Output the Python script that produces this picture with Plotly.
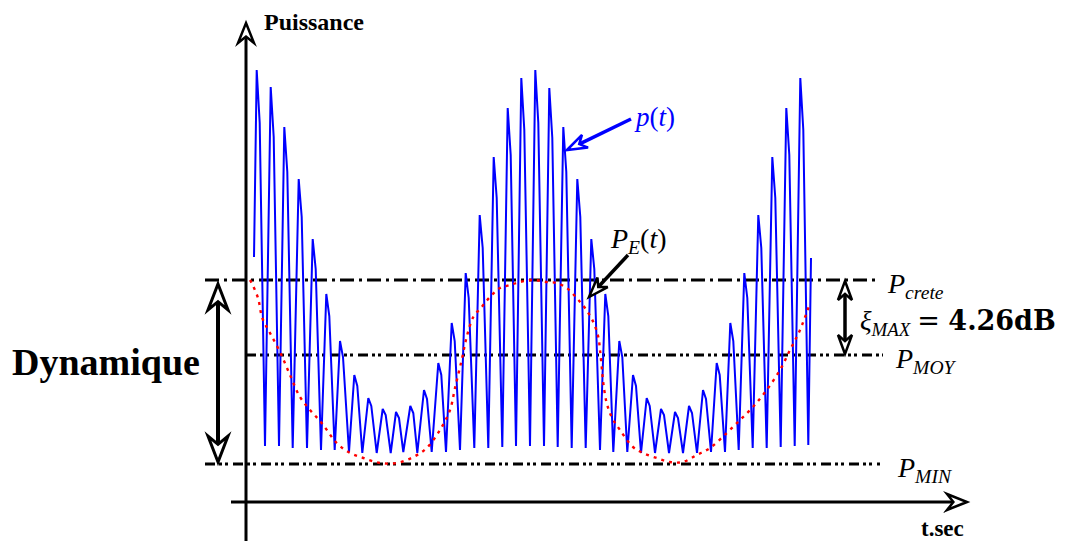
import math
import plotly.graph_objects as go

# ---------------- data (t in ms, power in arbitrary units) ----------------
peak_t = [1.07, 2.47, 3.83, 5.27, 6.67, 8.03, 9.40, 10.83, 12.23, 13.67,
          15.00, 16.43, 17.80, 19.23, 20.57, 21.97, 23.37, 24.77, 26.17, 27.53,
          28.93, 30.33, 31.73, 33.13, 34.53, 35.93, 37.33, 38.70, 40.07, 41.50,
          42.90, 44.30, 45.70, 47.07, 48.43, 49.83, 51.23, 52.63, 54.03, 55.43]
peak_p = [4.32, 4.15, 3.75, 3.23, 2.63, 2.08, 1.61, 1.27, 1.04, 0.93,
          0.90, 0.96, 1.12, 1.39, 1.79, 2.29, 2.87, 3.45, 3.94, 4.24,
          4.32, 4.14, 3.75, 3.23, 2.63, 2.08, 1.61, 1.27, 1.04, 0.93,
          0.90, 0.96, 1.12, 1.39, 1.79, 2.29, 2.87, 3.45, 3.94, 4.24]
shoulder_t = [1.37, 2.77, 4.13, 5.57, 6.97, 8.33, 9.70, 11.13, 12.53, 13.97,
              15.30, 16.73, 18.10, 19.53, 20.87, 22.27, 23.67, 25.07, 26.47, 27.83,
              29.23, 30.63, 32.03, 33.43, 34.83, 36.23, 37.63, 39.00, 40.37, 41.80,
              43.20, 44.60, 46.00, 47.37, 48.73, 50.13, 51.53, 52.93, 54.33, 55.73]
shoulder_p = [3.79, 3.65, 3.30, 2.85, 2.33, 1.86, 1.45, 1.16, 0.96, 0.87,
              0.84, 0.89, 1.03, 1.27, 1.61, 2.04, 2.54, 3.04, 3.47, 3.72,
              3.79, 3.64, 3.30, 2.85, 2.33, 1.86, 1.45, 1.16, 0.96, 0.87,
              0.84, 0.89, 1.03, 1.27, 1.61, 2.04, 2.54, 3.04, 3.47, 3.72]
trough_t = [1.90, 3.30, 4.67, 6.10, 7.50, 8.87, 10.30, 11.63, 13.07, 14.47,
            15.73, 17.13, 18.57, 20.00, 21.40, 22.83, 24.23, 25.63, 27.00, 28.40,
            29.80, 31.17, 32.57, 33.97, 35.40, 36.73, 38.13, 39.50, 40.90, 42.30,
            43.70, 45.10, 46.50, 47.90, 49.27, 50.67, 52.07, 53.47, 54.87, 56.23]
trough_p = [0.56, 0.56, 0.54, 0.54, 0.52, 0.52, 0.50, 0.49, 0.49, 0.49,
            0.50, 0.49, 0.50, 0.50, 0.52, 0.54, 0.54, 0.55, 0.56, 0.56,
            0.56, 0.55, 0.54, 0.54, 0.52, 0.50, 0.50, 0.49, 0.49, 0.49,
            0.49, 0.49, 0.50, 0.50, 0.52, 0.54, 0.54, 0.55, 0.56, 0.57]
start_t, start_p = 0.80, 2.45
end_t, end_p = 56.50, 2.44

env_t = [0.40, 0.57, 1.20, 1.63, 2.40, 3.40, 4.40, 5.40, 6.40, 7.57, 9.07, 10.40,
         11.73, 13.40, 15.07, 16.73, 18.07, 19.40, 20.40, 20.90, 21.57, 22.07,
         22.73, 23.57, 24.40, 25.40, 26.40, 27.40, 28.73, 30.07, 31.07, 32.07,
         33.07, 33.90, 34.73, 35.23, 35.40, 35.57, 35.73, 36.07, 36.57, 37.40,
         38.70, 39.70, 41.07, 42.40, 43.70, 45.07, 46.40, 48.07, 49.40, 50.70,
         52.07, 53.40, 54.40, 55.40, 56.40]
env_p = [2.22, 2.19, 2.04, 1.84, 1.69, 1.50, 1.27, 1.05, 0.92, 0.79, 0.59, 0.49,
         0.44, 0.39, 0.39, 0.45, 0.54, 0.72, 0.92, 1.14, 1.42, 1.65,
         1.85, 1.95, 2.05, 2.14, 2.17, 2.20, 2.22, 2.20, 2.19, 2.14,
         2.04, 1.94, 1.80, 1.65, 1.52, 1.35, 1.19, 0.99, 0.85, 0.72,
         0.55, 0.49, 0.44, 0.40, 0.40, 0.47, 0.54, 0.69, 0.82, 0.95,
         1.12, 1.32, 1.52, 1.72, 1.99]

P_CRETE = 2.22
P_MOY = 1.47
P_MIN = 0.38
level_names = ["crete", "MOY", "MIN"]
xi_max_db = 4.26

# ---------------- build signal polyline ----------------
sig_t = [start_t]
sig_p = [start_p]
for i in range(len(peak_t)):
    sig_t += [peak_t[i], shoulder_t[i], trough_t[i]]
    sig_p += [peak_p[i], shoulder_p[i], trough_p[i]]
sig_t.append(end_t)
sig_p.append(end_p)

# pixel <-> data mapping (plot area = whole canvas)
W, H = 1069, 541
X_ORIG, Y_ORIG = 246.0, 502.0
TX, PY = 10.0, 100.0   # pixels per unit

def to_px(t, p):
    return X_ORIG + t * TX, Y_ORIG - p * PY

def to_data(x, y):
    return (x - X_ORIG) / TX, (Y_ORIG - y) / PY

x_range = [to_data(0, 0)[0], to_data(W, 0)[0]]
y_range = [to_data(0, H)[1], to_data(0, 0)[1]]

fig = go.Figure()

# level lines
dash_crete = "14px,5px,3px,5px"
dash_dd = "10px,4px,3px,3px,3px,5px"
fig.add_trace(go.Scatter(x=[-4.1, 63.4], y=[P_CRETE, P_CRETE], mode="lines",
                         line=dict(color="black", width=3, dash=dash_crete),
                         hoverinfo="skip", showlegend=False))
fig.add_trace(go.Scatter(x=[0.0, 63.7], y=[P_MOY, P_MOY], mode="lines",
                         line=dict(color="black", width=3, dash=dash_dd),
                         hoverinfo="skip", showlegend=False))
fig.add_trace(go.Scatter(x=[-4.1, 63.4], y=[P_MIN, P_MIN], mode="lines",
                         line=dict(color="black", width=3, dash=dash_dd),
                         hoverinfo="skip", showlegend=False))

# signal p(t)
fig.add_trace(go.Scatter(x=sig_t, y=sig_p, mode="lines",
                         line=dict(color="#0000ff", width=2),
                         hoverinfo="skip", showlegend=False))
# envelope P_E(t)
fig.add_trace(go.Scatter(x=env_t, y=env_p, mode="lines",
                         line=dict(color="#ff0000", width=2.4, dash="3px,5px"),
                         line_shape="spline",
                         hoverinfo="skip", showlegend=False))

shapes = []

def head(tip, frm, L, Wd, color="black", lw=3):
    """open notched arrowhead at tip, returns (path shape, notch point in data)"""
    tx, ty = to_px(*tip)
    fx, fy = to_px(*frm)
    d = math.hypot(tx - fx, ty - fy)
    ux, uy = (tx - fx) / d, (ty - fy) / d
    nx, ny = -uy, ux
    bx, by = tx - L * ux, ty - L * uy
    pts = [(tx, ty),
           (bx + Wd / 2 * nx, by + Wd / 2 * ny),
           (tx - 0.68 * L * ux, ty - 0.68 * L * uy),
           (bx - Wd / 2 * nx, by - Wd / 2 * ny)]
    dpts = [to_data(x, y) for x, y in pts]
    path = "M " + " L ".join(f"{a:.4f},{b:.4f}" for a, b in dpts) + " Z"
    shp = dict(type="path", path=path, xref="x", yref="y", layer="above",
               fillcolor="white", line=dict(color=color, width=lw))
    return shp, dpts[2]

def arrow(frm, tip, L, Wd, color="black", lw=3.5, hw=3, double=False):
    h1, n1 = head(tip, frm, L, Wd, color, hw)
    start = frm
    extra = []
    if double:
        h2, n2 = head(frm, tip, L, Wd, color, hw)
        start = n2
        extra.append(h2)
    shapes.append(dict(type="line", xref="x", yref="y", x0=start[0], y0=start[1],
                       x1=n1[0], y1=n1[1], layer="above",
                       line=dict(color=color, width=lw)))
    shapes.append(h1)
    shapes.extend(extra)

# axes
arrow((0.0, y_range[0]), (0.0, 4.79), 20, 16, lw=3, hw=2.5)
arrow((-1.5, 0.0), (72.1, 0.0), 20, 16, lw=3, hw=2.5)
# Dynamique double arrow
arrow((-2.8, P_MIN + 0.02), (-2.8, P_CRETE - 0.04), 26, 20, lw=4, hw=3, double=True)
# xi double arrow
arrow((59.9, P_MOY + 0.01), (59.9, P_CRETE - 0.01), 19, 14, lw=3.5, hw=2.5, double=True)
# p(t) pointer
arrow((38.5, 3.83), (32.1, 3.52), 20, 14, color="#0000ff", lw=3.5, hw=2.5)
# P_E(t) pointer
arrow((38.2, 2.47), (34.3, 2.05), 20, 14, lw=3.5, hw=2.5)

serif = "Liberation Serif"
ann = []
ann.append(dict(x=1.6, y=4.80, text="<b>Puissance</b>", xanchor="left", yanchor="middle",
                font=dict(family=serif, size=24, color="black")))
ann.append(dict(x=69.6, y=-0.26, text="<b>t.sec</b>", xanchor="center", yanchor="middle",
                font=dict(family=serif, size=23, color="black")))
ann.append(dict(x=-14.0, y=1.40, text="<b>Dynamique</b>", xanchor="center", yanchor="middle",
                font=dict(family=serif, size=38, color="black")))
ann.append(dict(x=63.9, y=P_CRETE - 0.05, text="<i>P</i><sub><i>%s</i></sub>" % level_names[0],
                xanchor="left", yanchor="middle", font=dict(family=serif, size=28, color="black")))
ann.append(dict(x=64.7, y=P_MOY - 0.05, text="<i>P</i><sub><i>%s</i></sub>" % level_names[1],
                xanchor="left", yanchor="middle", font=dict(family=serif, size=28, color="black")))
ann.append(dict(x=64.9, y=P_MIN - 0.05, text="<i>P</i><sub><i>%s</i></sub>" % level_names[2],
                xanchor="left", yanchor="middle", font=dict(family=serif, size=28, color="black")))
ann.append(dict(x=61.2, y=1.80,
                text=("<i>ξ</i><sub><i>MAX</i></sub> "
                      "<span style='font-family:DejaVu Serif'>= <b>%.2fdB</b></span>") % xi_max_db,
                xanchor="left", yanchor="middle", font=dict(family=serif, size=27, color="black")))
ann.append(dict(x=38.6, y=3.85, text="<i>p</i>(<i>t</i>)", xanchor="left", yanchor="middle",
                font=dict(family=serif, size=27, color="#0000ff")))
ann.append(dict(x=36.2, y=2.62, text="<i>P</i><sub><i>E</i></sub>(<i>t</i>)", xanchor="left",
                yanchor="middle", font=dict(family=serif, size=28, color="black")))
for a in ann:
    a.update(xref="x", yref="y", showarrow=False)

fig.update_layout(
    width=W, height=H,
    margin=dict(l=0, r=0, t=0, b=0),
    paper_bgcolor="white", plot_bgcolor="white",
    xaxis=dict(range=x_range, visible=False, fixedrange=True),
    yaxis=dict(range=y_range, visible=False, fixedrange=True),
    shapes=shapes, annotations=ann, showlegend=False,
)
fig.write_html("out.html")
